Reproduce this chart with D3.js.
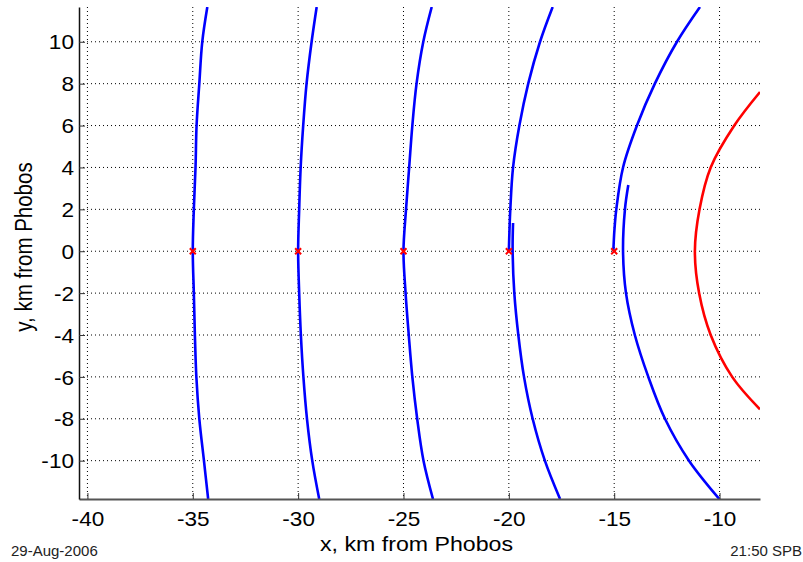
<!DOCTYPE html>
<meta charset="utf-8">
<style>
body { margin: 0; background: #fff; }
text { font-family: "Liberation Sans", Arial, sans-serif; fill: #000; }
.grid line { stroke: #000; stroke-width: 1; stroke-dasharray: 1,3; }
.track { fill: none; stroke: #0000ff; stroke-width: 2.6; stroke-linejoin: round; }
.front { fill: none; stroke: #ff0000; stroke-width: 2.6; stroke-linejoin: round; }
.mark { stroke: #ff0000; stroke-width: 2; }
</style>
<svg width="803" height="562"></svg>
<script src="https://cdn.jsdelivr.net/npm/d3@7"></script>
<script>

// tick values
var xTicks = [-40, -35, -30, -25, -20, -15, -10];
var yTicks = [-10, -8, -6, -4, -2, 0, 2, 4, 6, 8, 10];

// starting points (red crosses)
var starts = [-35, -30, -25, -20, -15];

// blue trajectories, [x, y] in km
var track1 = [[-34.31, 11.66], [-34.55, 10], [-34.69, 8], [-34.82, 6], [-34.87, 4], [-34.95, 2], [-35.0, 0],
              [-34.95, -2], [-34.9, -4], [-34.83, -6], [-34.69, -8], [-34.47, -10], [-34.27, -11.83]];
var track2 = [[-29.12, 11.66], [-29.36, 10], [-29.6, 8], [-29.76, 6], [-29.88, 4], [-29.95, 2], [-30.0, 0],
              [-29.95, -2], [-29.87, -4], [-29.75, -6], [-29.58, -8], [-29.33, -10], [-29.0, -11.83]];
var track3 = [[-23.66, 11.66], [-24.06, 10], [-24.38, 8], [-24.58, 6], [-24.73, 4], [-24.88, 2], [-25.0, 0],
              [-24.9, -2], [-24.75, -4], [-24.58, -6], [-24.35, -8], [-24.05, -10], [-23.6, -11.83]];
var track4a = [[-20.0, 0], [-19.97, 1], [-19.93, 2], [-19.8, 4], [-19.5, 6], [-19.08, 8], [-18.52, 10], [-17.92, 11.66]];
var track4b = [[-19.8, 1.35], [-19.82, 0], [-19.74, -2], [-19.55, -4], [-19.28, -6], [-18.87, -8], [-18.29, -10], [-17.57, -11.83]];
var track5a = [[-15.04, 0], [-14.99, 1], [-14.9, 2], [-14.58, 4], [-13.92, 6], [-13.07, 8], [-12.02, 10], [-10.93, 11.66]];
var track5b = [[-14.33, 3.16], [-14.49, 2], [-14.58, 0], [-14.44, -2], [-14.02, -4], [-13.38, -6], [-12.59, -8],
               [-11.45, -10], [-10.01, -11.83]];

// red curve
var front = [[-8.08, 7.6], [-9.3, 6], [-10.42, 4], [-10.95, 2], [-11.17, 0],
             [-10.97, -2], [-10.42, -4], [-9.4, -6], [-8.08, -7.55]];

var svg = d3.select("svg"),
    margin = {top: 7, right: 43, bottom: 63, left: 79},
    width = +svg.attr("width") - margin.left - margin.right,
    height = +svg.attr("height") - margin.top - margin.bottom;

// the picture is a bit wider than tall in its lettering
var sx = 1.13;

var x = d3.scaleLinear().domain([-40.4, -8.08]).range([0, width]);
var y = d3.scaleLinear().domain([-11.83, 11.66]).range([height, 0]);

var g = svg.append("g").attr("transform", "translate(" + margin.left + "," + margin.top + ")");

svg.append("defs").append("clipPath").attr("id", "clip")
  .append("rect").attr("width", width).attr("height", height);

// grid
var grid = g.append("g").attr("class", "grid");
grid.selectAll(".vx").data(xTicks).enter().append("line")
    .attr("x1", function(d) { return x(d); }).attr("x2", function(d) { return x(d); })
    .attr("y1", 0).attr("y2", height);
grid.selectAll(".hy").data(yTicks).enter().append("line")
    .attr("x1", 0).attr("x2", width)
    .attr("y1", function(d) { return y(d); }).attr("y2", function(d) { return y(d); });

// curves
var line = d3.line()
    .x(function(d) { return x(d[0]); })
    .y(function(d) { return y(d[1]); })
    .curve(d3.curveCatmullRom);

var plot = g.append("g").attr("clip-path", "url(#clip)");

plot.selectAll(".track")
  .data([track1, track2, track3, track4a, track4b, track5a, track5b])
  .enter().append("path")
    .attr("class", "track")
    .attr("d", line);

plot.append("path").datum(front)
    .attr("class", "front")
    .attr("d", line);

// start crosses
var s = 3;
plot.selectAll(".cross").data(starts).enter().append("path")
    .attr("class", "mark")
    .attr("d", function(d) {
      var cx = x(d), cy = y(0);
      return "M" + (cx - s) + "," + (cy - s) + "L" + (cx + s) + "," + (cy + s) +
             "M" + (cx - s) + "," + (cy + s) + "L" + (cx + s) + "," + (cy - s);
    });

// axes
var fmt = function(d) { return String(d); };

var xAxis = g.append("g").attr("transform", "translate(0," + height + ")")
    .call(d3.axisBottom(x).tickValues(xTicks).tickFormat(fmt).tickSizeInner(-6).tickSizeOuter(0));
var yAxis = g.append("g")
    .call(d3.axisLeft(y).tickValues(yTicks).tickFormat(fmt).tickSizeInner(-6).tickSizeOuter(0));

xAxis.select(".domain").attr("stroke", "#555").attr("stroke-width", 2);
yAxis.select(".domain").attr("stroke", "#111").attr("stroke-width", 1.5);
xAxis.selectAll(".tick line").attr("stroke", "#333");
yAxis.selectAll(".tick line").attr("stroke", "#333");

xAxis.selectAll("text")
    .attr("font-family", null).style("font-size", "20px")
    .attr("y", 27).attr("dy", null)
    .attr("transform", "scale(" + sx + ",1)");
yAxis.selectAll("text")
    .attr("font-family", null).style("font-size", "20px")
    .attr("x", -5 / sx).attr("dy", "0.36em")
    .attr("transform", "scale(" + sx + ",1)");

// labels
svg.append("text")
    .attr("transform", "translate(" + (margin.left + width / 2 - 3) + ",551) scale(" + sx + ",1)")
    .attr("text-anchor", "middle")
    .style("font-size", "20.5px")
    .text("x, km from Phobos");

svg.append("text")
    .attr("transform", "translate(32,247) scale(" + sx + ",1) rotate(-90)")
    .attr("text-anchor", "middle")
    .style("font-size", "20.5px")
    .text("y, km from Phobos");

svg.append("text")
    .attr("x", 11)
    .attr("y", 556)
    .style("font-size", "15px")
    .style("fill", "#222")
    .text("29-Aug-2006");

svg.append("text")
    .attr("x", 802)
    .attr("y", 556)
    .attr("text-anchor", "end")
    .style("font-size", "15px")
    .style("fill", "#222")
    .text("21:50 SPB");

</script>
